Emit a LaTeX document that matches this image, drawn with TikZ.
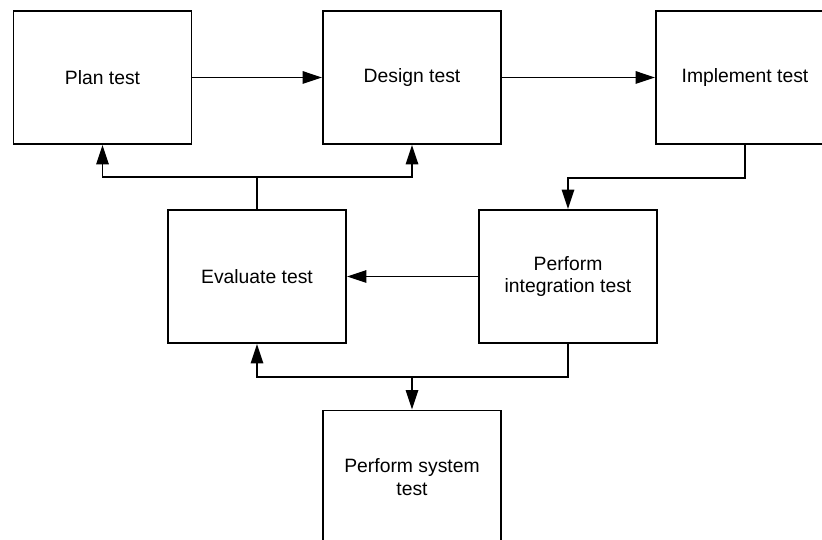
\documentclass[tikz,border=0pt]{standalone}
\usepackage{fontspec}
\setmainfont{Liberation Sans}
\usetikzlibrary{arrows.meta}

\tikzset{
  stage/.style={draw, line width=1.1pt, minimum width=3.56cm, minimum height=2.66cm,
    align=center, font=\fontsize{11}{13}\selectfont, inner sep=2pt},
  flow/.style={line width=1.1pt, -{Triangle[length=11pt, width=7pt]}},
  link/.style={line width=1.1pt}
}

\begin{document}
\begin{tikzpicture}[x=0.02cm, y=-0.02cm]
    \clip (0,0) rectangle (822,540);
    \fill[white] (0,0) rectangle (822,540);

    \node[stage] (plan) at (102.5,77.5) {Plan test};
    \node[stage] (design) at (412,77.5) {Design test};
    \node[stage] (impl) at (745,77.5) {Implement test};
    \node[stage] (eval) at (257,276.5) {Evaluate test};
    \node[stage] (integ) at (568,276.5) {Perform\\integration test};
    \node[stage] (sys) at (412,477) {Perform system\\test};

    \coordinate (upj) at (257,177);
    \coordinate (lowj) at (412,377);

\draw[flow] (plan) -- (design);
\draw[flow] (design) -- (impl);
\draw[flow] (impl.south) -- ++(0,33) -| (integ.north);
\draw[flow] (integ) -- (eval);
\draw[link] (eval.north) -- (upj);
\draw[flow] (upj) -| (plan.south);
\draw[flow] (upj) -| (design.south);
\draw[link] (integ.south) |- (lowj);
\draw[flow] (lowj) -| (eval.south);
\draw[flow] (lowj) -- (sys.north);
  \end{tikzpicture}
\end{document}
